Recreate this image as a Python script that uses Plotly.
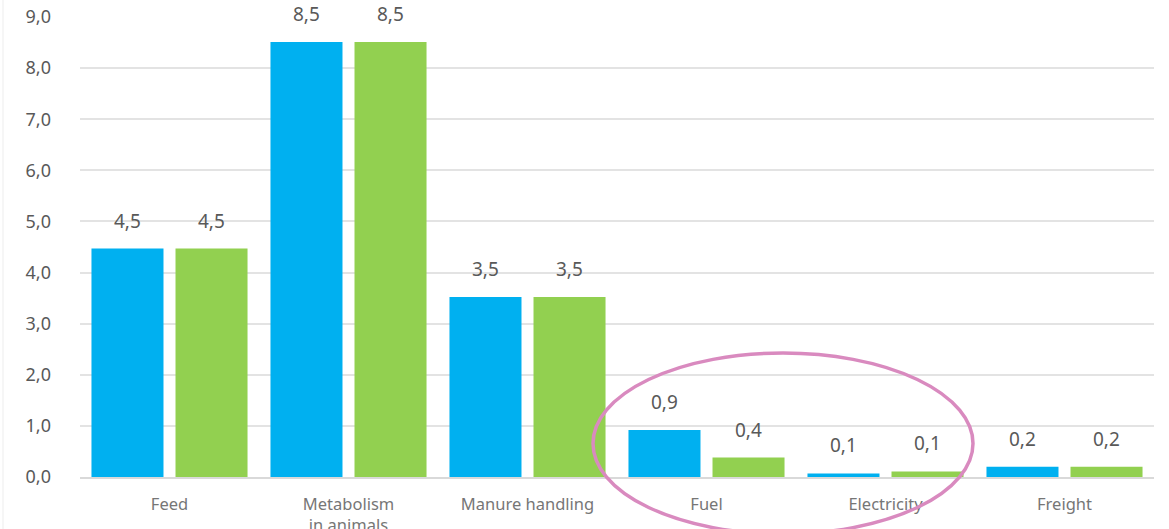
import plotly.graph_objects as go

categories = ["Feed", "Metabolism<br>in animals", "Manure handling", "Fuel", "Electricity", "Freight"]
series_blue = [4.47, 8.51, 3.52, 0.92, 0.07, 0.2]
series_green = [4.47, 8.51, 3.52, 0.38, 0.11, 0.2]
y_ticks = [0, 1, 2, 3, 4, 5, 6, 7, 8, 9]
y_tick_labels = [f"{v:.1f}".replace(".", ",") for v in y_ticks]

BLUE = "#00B0F0"
GREEN = "#92D050"
FONT = "Noto Sans"

def fmt(v):
    return f"{v:.1f}".replace(".", ",")

fig = go.Figure()
fig.add_trace(go.Bar(x=categories, y=series_blue, marker=dict(color=BLUE, line=dict(width=0)),
                     name="A", hoverinfo="skip"))
fig.add_trace(go.Bar(x=categories, y=series_green, marker=dict(color=GREEN, line=dict(width=0)),
                     name="B", hoverinfo="skip"))

annotations = []
for cat, vb, vg in zip(categories, series_blue, series_green):
    for v, xs in ((vb, -42), (vg, 42)):
        annotations.append(dict(x=cat, y=v, text=fmt(v), showarrow=False, xshift=xs,
                                yanchor="bottom", yshift=13,
                                font=dict(family=FONT, size=19, color="#595959")))

# plot area geometry for paper-ref shapes
L, R, T, B = 80, 15, 17, 52
W, H = 1169, 529
pw, ph = W - L - R, H - T - B

def px_x(p):
    return (p - L) / pw

def px_y(p):
    return (H - B - p) / ph

shapes = [
    dict(type="circle", xref="paper", yref="paper",
         x0=px_x(593), x1=px_x(973), y0=px_y(534), y1=px_y(353),
         line=dict(color="#D98ABF", width=3.5), fillcolor="rgba(0,0,0,0)", layer="above"),
    dict(type="line", xref="paper", yref="paper", x0=px_x(3), x1=px_x(3), y0=px_y(0), y1=px_y(529),
         line=dict(color="#EDEDED", width=1)),
]

fig.update_layout(
    width=W, height=H,
    margin=dict(l=L, r=R, t=T, b=B, autoexpand=False),
    paper_bgcolor="white", plot_bgcolor="white",
    barmode="group", bargap=0.061, bargroupgap=0.143,
    showlegend=False,
    font=dict(family=FONT, color="#595959"),
    annotations=annotations,
    shapes=shapes,
    xaxis=dict(showgrid=False, showline=True, linecolor="#D9D9D9", linewidth=1.5,
               ticks="", tickfont=dict(family=FONT, size=16.5, color="#767676"),
               ticklabelstandoff=11, fixedrange=True, automargin=False),
    yaxis=dict(range=[0, 9], tickvals=y_ticks, ticktext=y_tick_labels,
               showgrid=True, gridcolor="#E3E3E3", gridwidth=1.5,
               zeroline=False, showline=False, ticks="",
               tickfont=dict(family=FONT, size=18, color="#595959"),
               ticklabelstandoff=28, fixedrange=True, automargin=False),
)

fig.write_html("out.html", config={"displayModeBar": False})
